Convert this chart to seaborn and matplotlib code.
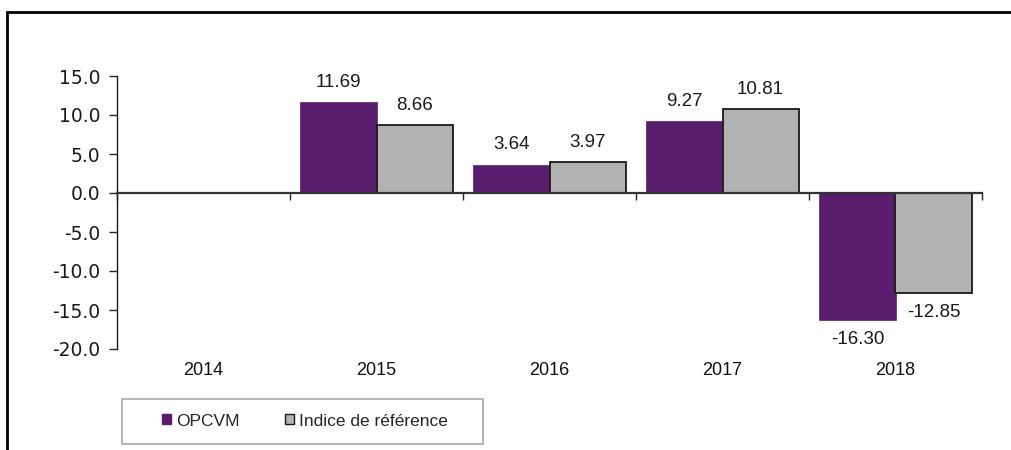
import numpy as np
import pandas as pd
import matplotlib
matplotlib.use("Agg")
import matplotlib.pyplot as plt
import matplotlib.transforms as mtransforms
from matplotlib.patches import Rectangle
import seaborn as sns

years = ["2014", "2015", "2016", "2017", "2018"]
opcvm = [np.nan, 11.69, 3.64, 9.27, -16.30]
indice = [np.nan, 8.66, 3.97, 10.81, -12.85]
series_names = ["OPCVM", "Indice de référence"]
y_ticks = [-20, -15, -10, -5, 0, 5, 10, 15]

PURPLE = "#5a1d6e"
GREY = "#b2b2b2"

sns.set_style("white")
plt.rcParams["font.family"] = ["Liberation Sans", "DejaVu Sans"]

df = pd.DataFrame({
    "year": years * 2,
    "value": opcvm + indice,
    "serie": [series_names[0]] * len(years) + [series_names[1]] * len(years),
})

fig = plt.figure(figsize=(10.11, 4.5), dpi=100)
ax = fig.add_axes([117 / 1011, 1 - 349 / 450, 865 / 1011, 273 / 450])

sns.barplot(data=df, x="year", y="value", hue="serie", order=years,
            hue_order=series_names, palette=[PURPLE, GREY], width=0.88,
            saturation=1, errorbar=None, legend=False, ax=ax)

for c, ec, lw in zip(ax.containers, [PURPLE, "#1a1a1a"], [0.5, 1.3]):
    for b in c:
        b.set_edgecolor(ec)
        b.set_linewidth(lw)
    labels = ["" if np.isnan(b.get_height()) else f"{b.get_height():.2f}" for b in c]
    ax.bar_label(c, labels=labels, padding=8, fontsize=13.5, color="#1a1a1a")

ax.set_xlim(-0.5, 4.5)
ax.set_ylim(-20, 15)
ax.set_yticks(y_ticks)
ax.set_yticklabels([f"{v:.1f}" for v in y_ticks], family="DejaVu Sans",
                   fontsize=13.5, color="#1a1a1a")
ax.set_xticks(np.arange(-0.5, 5, 1.0))
ax.set_xticklabels([])
ax.set_xlabel("")
ax.set_ylabel("")

ax.spines["top"].set_visible(False)
ax.spines["right"].set_visible(False)
ax.spines["bottom"].set_position(("data", 0))
ax.spines["bottom"].set_color("#333333")
ax.spines["bottom"].set_linewidth(1.6)
ax.spines["left"].set_color("#1a1a1a")
ax.spines["left"].set_linewidth(1.0)
ax.tick_params(axis="y", direction="out", length=6, width=1, left=True, pad=6)
ax.tick_params(axis="x", direction="out", length=5, width=1, bottom=True)

trans = mtransforms.blended_transform_factory(ax.transData, ax.transAxes)
for i, y in enumerate(years):
    ax.text(i, -0.078, y, transform=trans, ha="center", va="center",
            fontsize=13, color="#111111")

# outer frame
fig.patches.append(Rectangle((7 / 1011, -0.1), 1.2, 1 - 12 / 450 + 0.1,
                             transform=fig.transFigure, fill=False,
                             edgecolor="black", linewidth=2, clip_on=False))

# legend box
fig.patches.append(Rectangle((122 / 1011, 1 - 444 / 450), 361 / 1011, 45 / 450,
                             transform=fig.transFigure, fill=False,
                             edgecolor="#a8a8a8", linewidth=1.2))
handles = [Rectangle((0, 0), 1, 1, facecolor=PURPLE, edgecolor=PURPLE),
           Rectangle((0, 0), 1, 1, facecolor=GREY, edgecolor="#1a1a1a", linewidth=1)]
fig.legend(handles, series_names, loc="center", ncol=2,
           bbox_to_anchor=(305 / 1011, 1 - 421 / 450), frameon=False,
           fontsize=12.5, handlelength=0.5, handleheight=0.5,
           handletextpad=0.3, columnspacing=2.6)

fig.savefig("out.png", dpi=100)
